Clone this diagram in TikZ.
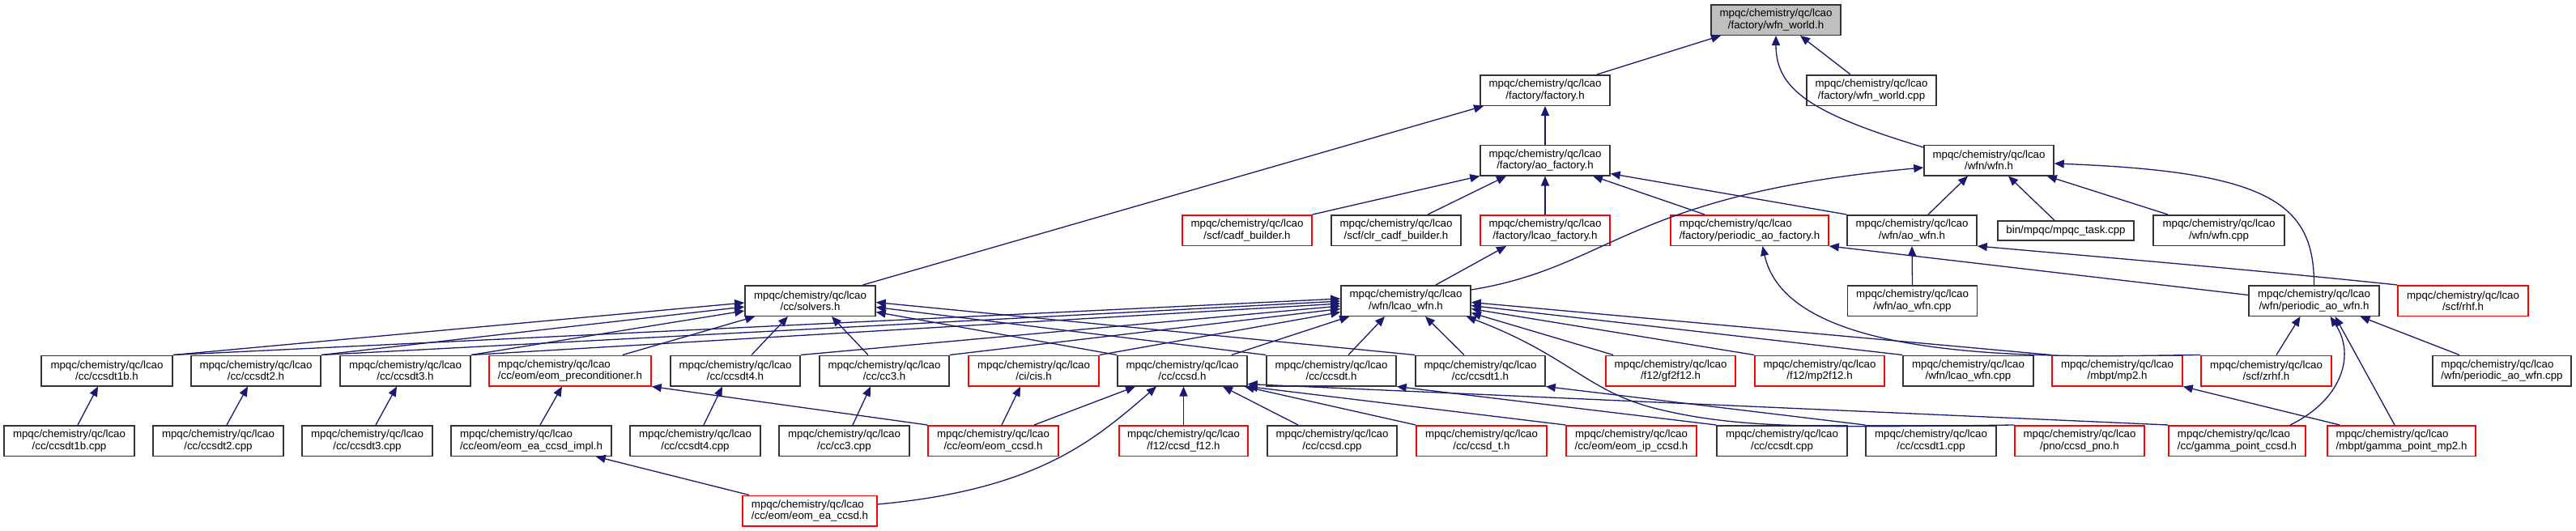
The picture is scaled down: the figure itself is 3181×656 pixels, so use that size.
\documentclass[tikz,border=0pt]{standalone}
\usepackage{fontspec}
\setmainfont{Liberation Sans}
\usetikzlibrary{arrows.meta}
\definecolor{edgec}{HTML}{191970}
\definecolor{rootc}{HTML}{BFBFBF}
\definecolor{boxc}{HTML}{333333}
\tikzset{
  box/.style={draw=boxc, line width=1.5pt, fill=white, inner sep=0pt, minimum height=37.5pt, align=center, font=\fontsize{13.3}{14.4}\selectfont},
  rbox/.style={box, draw=red},
  lft/.style={align=left},
  bw/.style={minimum width=#1pt},
  dep/.style={draw=edgec, line width=1.3pt, -{Triangle[length=12pt,width=10pt]}},
}
\begin{document}
\begin{tikzpicture}[x=1pt,y=-1pt]
\path[use as bounding box] (0,0) rectangle (3181,656);
% row 0
\node[box,bw=160,fill=rootc] (wfnworld) at (2193,24.5) {mpqc/chemistry/qc/lcao\\/factory/wfn\_world.h};
% row 1
\node[box,bw=160] (factory) at (1908,111.5) {mpqc/chemistry/qc/lcao\\/factory/factory.h};
\node[box,bw=160] (wfnworldcpp) at (2311,111.5) {mpqc/chemistry/qc/lcao\\/factory/wfn\_world.cpp};
% row 2
\node[box,bw=160] (aofactory) at (1908,198) {mpqc/chemistry/qc/lcao\\/factory/ao\_factory.h};
\node[box,bw=160] (wfn) at (2456,198) {mpqc/chemistry/qc/lcao\\/wfn/wfn.h};
% row 3
\node[rbox,bw=160] (cadf) at (1540,284.5) {mpqc/chemistry/qc/lcao\\/scf/cadf\_builder.h};
\node[box,bw=160] (clrcadf) at (1724,284.5) {mpqc/chemistry/qc/lcao\\/scf/clr\_cadf\_builder.h};
\node[rbox,bw=160] (lcaofactory) at (1908,284.5) {mpqc/chemistry/qc/lcao\\/factory/lcao\_factory.h};
\node[rbox,lft,bw=195] (periodicaofactory) at (2160.5,284.5) {mpqc/chemistry/qc/lcao\\/factory/periodic\_ao\_factory.h};
\node[box,bw=160] (aowfn) at (2361,284.5) {mpqc/chemistry/qc/lcao\\/wfn/ao\_wfn.h};
\node[box,bw=168,minimum height=24pt] (mpqctask) at (2551,285) {bin/mpqc/mpqc\_task.cpp};
\node[box,bw=162] (wfncpp) at (2740,284.5) {mpqc/chemistry/qc/lcao\\/wfn/wfn.cpp};
% row 4
\node[box,bw=161] (solvers) at (1000.5,371.5) {mpqc/chemistry/qc/lcao\\/cc/solvers.h};
\node[box,bw=160] (lcaowfn) at (1736,371.5) {mpqc/chemistry/qc/lcao\\/wfn/lcao\_wfn.h};
\node[box,bw=160] (aowfncpp) at (2361.5,371.5) {mpqc/chemistry/qc/lcao\\/wfn/ao\_wfn.cpp};
\node[box,bw=161] (periodicaowfn) at (2857.5,371.5) {mpqc/chemistry/qc/lcao\\/wfn/periodic\_ao\_wfn.h};
\node[rbox,bw=161] (rhf) at (3041.5,371.5) {mpqc/chemistry/qc/lcao\\/scf/rhf.h};
% row 5
\node[box,bw=162] (ccsdt1b) at (132,458) {mpqc/chemistry/qc/lcao\\/cc/ccsdt1b.h};
\node[box,bw=160] (ccsdt2) at (316,458) {mpqc/chemistry/qc/lcao\\/cc/ccsdt2.h};
\node[box,bw=161] (ccsdt3) at (500.5,458) {mpqc/chemistry/qc/lcao\\/cc/ccsdt3.h};
\node[rbox,lft,bw=200] (eomprec) at (704,458) {mpqc/chemistry/qc/lcao\\/cc/eom/eom\_preconditioner.h};
\node[box,bw=160] (ccsdt4) at (908,458) {mpqc/chemistry/qc/lcao\\/cc/ccsdt4.h};
\node[box,bw=160] (cc3) at (1092,458) {mpqc/chemistry/qc/lcao\\/cc/cc3.h};
\node[rbox,bw=161] (cis) at (1276.5,458) {mpqc/chemistry/qc/lcao\\/ci/cis.h};
\node[box,bw=160] (ccsd) at (1460,458) {mpqc/chemistry/qc/lcao\\/cc/ccsd.h};
\node[box,bw=160] (ccsdt) at (1644,458) {mpqc/chemistry/qc/lcao\\/cc/ccsdt.h};
\node[box,bw=160] (ccsdt1) at (1828,458) {mpqc/chemistry/qc/lcao\\/cc/ccsdt1.h};
\node[rbox,bw=160] (gf2f12) at (2063,458) {mpqc/chemistry/qc/lcao\\/f12/gf2f12.h};
\node[rbox,bw=160] (mp2f12) at (2247,458) {mpqc/chemistry/qc/lcao\\/f12/mp2f12.h};
\node[box,bw=161] (lcaowfncpp) at (2430.5,458) {mpqc/chemistry/qc/lcao\\/wfn/lcao\_wfn.cpp};
\node[rbox,bw=161] (mp2) at (2614.5,458) {mpqc/chemistry/qc/lcao\\/mbpt/mp2.h};
\node[rbox,bw=161] (zrhf) at (2798.5,458) {mpqc/chemistry/qc/lcao\\/scf/zrhf.h};
\node[box,lft,bw=171] (pawfncpp) at (3089.5,458) {mpqc/chemistry/qc/lcao\\/wfn/periodic\_ao\_wfn.cpp};
% row 6
\node[box,bw=161] (ccsdt1bcpp) at (85.5,544.5) {mpqc/chemistry/qc/lcao\\/cc/ccsdt1b.cpp};
\node[box,bw=161] (ccsdt2cpp) at (269.5,544.5) {mpqc/chemistry/qc/lcao\\/cc/ccsdt2.cpp};
\node[box,bw=161] (ccsdt3cpp) at (453.5,544.5) {mpqc/chemistry/qc/lcao\\/cc/ccsdt3.cpp};
\node[box,lft,bw=198] (eomeaimpl) at (656,544.5) {mpqc/chemistry/qc/lcao\\/cc/eom/eom\_ea\_ccsd\_impl.h};
\node[box,bw=161] (ccsdt4cpp) at (858.5,544.5) {mpqc/chemistry/qc/lcao\\/cc/ccsdt4.cpp};
\node[box,bw=161] (cc3cpp) at (1042.5,544.5) {mpqc/chemistry/qc/lcao\\/cc/cc3.cpp};
\node[rbox,bw=161] (eomccsd) at (1226.5,544.5) {mpqc/chemistry/qc/lcao\\/cc/eom/eom\_ccsd.h};
\node[rbox,bw=159] (ccsdf12) at (1461.5,544.5) {mpqc/chemistry/qc/lcao\\/f12/ccsd\_f12.h};
\node[box,bw=160] (ccsdcpp) at (1645,544.5) {mpqc/chemistry/qc/lcao\\/cc/ccsd.cpp};
\node[rbox,bw=161] (ccsdth) at (1829.5,544.5) {mpqc/chemistry/qc/lcao\\/cc/ccsd\_t.h};
\node[rbox,bw=161] (eomip) at (2014.5,544.5) {mpqc/chemistry/qc/lcao\\/cc/eom/eom\_ip\_ccsd.h};
\node[box,bw=161] (ccsdtcpp) at (2200.5,544.5) {mpqc/chemistry/qc/lcao\\/cc/ccsdt.cpp};
\node[box,bw=161] (ccsdt1cpp) at (2384.5,544.5) {mpqc/chemistry/qc/lcao\\/cc/ccsdt1.cpp};
\node[rbox,bw=160] (ccsdpno) at (2568,544.5) {mpqc/chemistry/qc/lcao\\/pno/ccsd\_pno.h};
\node[rbox,lft,bw=169] (gpccsd) at (2762.5,544.5) {mpqc/chemistry/qc/lcao\\/cc/gamma\_point\_ccsd.h};
\node[rbox,lft,bw=183] (gpmp2) at (2965.5,544.5) {mpqc/chemistry/qc/lcao\\/mbpt/gamma\_point\_mp2.h};
% row 7
\node[rbox,lft,bw=166] (eomea) at (1000,631) {mpqc/chemistry/qc/lcao\\/cc/eom/eom\_ea\_ccsd.h};

% upper edges
\draw[dep] ([xshift=64pt]factory.north) -- ([xshift=-68pt]wfnworld.south);
\draw[dep] ([xshift=-26pt]wfnworldcpp.north) -- ([xshift=30pt]wfnworld.south);
\draw[dep] ([yshift=-3.5pt]wfn.north west) .. controls (2235,140) and (2193,110) .. (wfnworld.south);
\draw[dep] ([xshift=65pt]solvers.north) -- ([xshift=-76pt]factory.south);
\draw[dep] (aofactory.north) -- (factory.south);
\draw[dep] (cadf.north east) -- (aofactory.south west);
\draw[dep] ([xshift=39pt]clrcadf.north) -- ([xshift=-48pt]aofactory.south);
\draw[dep] (lcaofactory.north) -- (aofactory.south);
\draw[dep] ([xshift=-55.5pt]periodicaofactory.north) -- ([xshift=59pt]aofactory.south);
\draw[dep] (aowfn.north west) -- ([yshift=3pt]aofactory.south east);
\draw[dep] ([yshift=-6pt]lcaowfn.north east) .. controls (1990,330) and (2010,240) .. ([yshift=-9pt]wfn.west);
\draw[dep] ([xshift=20pt]aowfn.north) -- ([xshift=-26pt]wfn.south);
\draw[dep] ([xshift=-14pt]mpqctask.north) -- ([xshift=24pt]wfn.south);
\draw[dep] ([xshift=-63pt]wfncpp.north) -- ([xshift=-9pt]wfn.south east);
\draw[dep] (periodicaowfn.north) .. controls (2858,250) and (2800,212) .. ([yshift=-4pt]wfn.east);
\draw[dep] ([xshift=37pt]lcaowfn.north) -- ([xshift=-48pt]lcaofactory.south);
\draw[dep] ([yshift=7pt]periodicaowfn.west) -- (periodicaofactory.south east);
\draw[dep] (zrhf.north west) .. controls (2550,440) and (2210,455) .. ([xshift=16pt]periodicaofactory.south);
\draw[dep] (rhf.north west) .. controls (2800,335) and (2600,318) .. (aowfn.south east);
\draw[dep] (aowfncpp.north) -- (aowfn.south);

% row 5 to solvers / lcao_wfn
\draw[dep] (ccsdt1b.north east) -- ([yshift=-2.5pt]solvers.west);
\draw[dep] (ccsdt1b.north east) -- ([yshift=2.5pt]lcaowfn.west);
\draw[dep] (ccsdt2.north east) -- ([yshift=-7.5pt]solvers.west);
\draw[dep] (ccsdt2.north east) -- ([yshift=-0.5pt]lcaowfn.west);
\draw[dep] (ccsdt3.north east) -- ([yshift=-12.5pt]solvers.west);
\draw[dep] (ccsdt3.north east) -- ([yshift=-3.5pt]lcaowfn.west);
\draw[dep] ([xshift=-36pt]eomprec.north east) -- ([xshift=13pt]solvers.south west);
\draw[dep] ([xshift=20pt]ccsdt4.north) -- ([xshift=-27.5pt]solvers.south);
\draw[dep] (ccsdt4.north east) -- ([yshift=-6.5pt]lcaowfn.west);
\draw[dep] ([xshift=-20pt]cc3.north) -- ([xshift=26.5pt]solvers.south);
\draw[dep] (cc3.north east) -- ([yshift=-10pt]lcaowfn.west);
\draw[dep] (cis.north east) -- ([yshift=-14pt]lcaowfn.west);
\draw[dep] (ccsd.north west) -- ([yshift=-14pt]solvers.east);
\draw[dep] ([xshift=-20pt]ccsd.north east) -- ([xshift=11pt]lcaowfn.south west);
\draw[dep] (ccsdt.north west) -- ([yshift=-8pt]solvers.east);
\draw[dep] ([xshift=21pt]ccsdt.north) -- ([xshift=-26pt]lcaowfn.south);
\draw[dep] (ccsdt1.north west) -- ([yshift=-2pt]solvers.east);
\draw[dep] ([xshift=-20pt]ccsdt1.north) -- ([xshift=24pt]lcaowfn.south);
\draw[dep] ([xshift=10pt]gf2f12.north west) -- ([yshift=-15pt]lcaowfn.east);
\draw[dep] (mp2f12.north west) -- ([yshift=-10pt]lcaowfn.east);
\draw[dep] (lcaowfncpp.north west) -- ([yshift=-6pt]lcaowfn.east);
\draw[dep] (mp2.north west) -- ([yshift=-2pt]lcaowfn.east);
\draw[dep] (ccsdpno.north west) .. controls (2250,528) and (2150,530) .. (2050,506)
   .. controls (1960,485) and (1940,440) .. ([xshift=-6pt]lcaowfn.south east);

% row 6/7 edges
\draw[dep] ([xshift=10.5pt]ccsdt1bcpp.north) -- ([xshift=-11pt]ccsdt1b.south);
\draw[dep] ([xshift=10.5pt]ccsdt2cpp.north) -- ([xshift=-10pt]ccsdt2.south);
\draw[dep] ([xshift=10.5pt]ccsdt3cpp.north) -- ([xshift=-10.5pt]ccsdt3.south);
\draw[dep] ([xshift=11pt]eomeaimpl.north) -- ([xshift=-10pt]eomprec.south);
\draw[dep] ([xshift=10.5pt]ccsdt4cpp.north) -- ([xshift=-16pt]ccsdt4.south);
\draw[dep] ([xshift=10.5pt]cc3cpp.north) -- ([xshift=-17pt]cc3.south);
\draw[dep] ([xshift=10.5pt]eomccsd.north) -- ([xshift=-16.5pt]cis.south);
\draw[dep] ([xshift=50.5pt]eomccsd.north) -- ([xshift=-58pt]ccsd.south);
\draw[dep] (eomccsd.north west) -- (eomprec.south east);
\draw[dep] ([xshift=-75pt]eomea.north) -- ([xshift=-20pt]eomeaimpl.south east);
\draw[dep] ([yshift=8pt]eomea.east) .. controls (1280,605) and (1350,545) .. ([xshift=-32pt]ccsd.south);
\draw[dep] (ccsdf12.north) -- ([xshift=1.5pt]ccsd.south);
\draw[dep] ([xshift=-42pt]ccsdcpp.north) -- ([xshift=50pt]ccsd.south);
\draw[dep] (ccsdth.north west) -- ([xshift=-4pt]ccsd.south east);
\draw[dep] (eomip.north west) -- (ccsd.south east);
\draw[dep] (gpccsd.north west) -- ([yshift=3pt]ccsd.south east);
\draw[dep] (ccsdtcpp.north west) -- (ccsdt.south east);
\draw[dep] (ccsdt1cpp.north west) -- (ccsdt1.south east);
\draw[dep] ([xshift=16pt]gpmp2.north west) -- (mp2.south east);
\draw[dep] ([xshift=12.5pt]zrhf.north) -- ([xshift=-17pt]periodicaowfn.south);
\draw[dep] ([xshift=65.5pt]gpccsd.north) .. controls (2890,495) and (2910,440) .. ([xshift=20pt]periodicaowfn.south);
\draw[dep] ([xshift=-8.5pt]gpmp2.north) -- ([xshift=26pt]periodicaowfn.south);
\draw[dep] ([xshift=-52.5pt]pawfncpp.north) -- ([xshift=57pt]periodicaowfn.south);
\end{tikzpicture}
\end{document}
